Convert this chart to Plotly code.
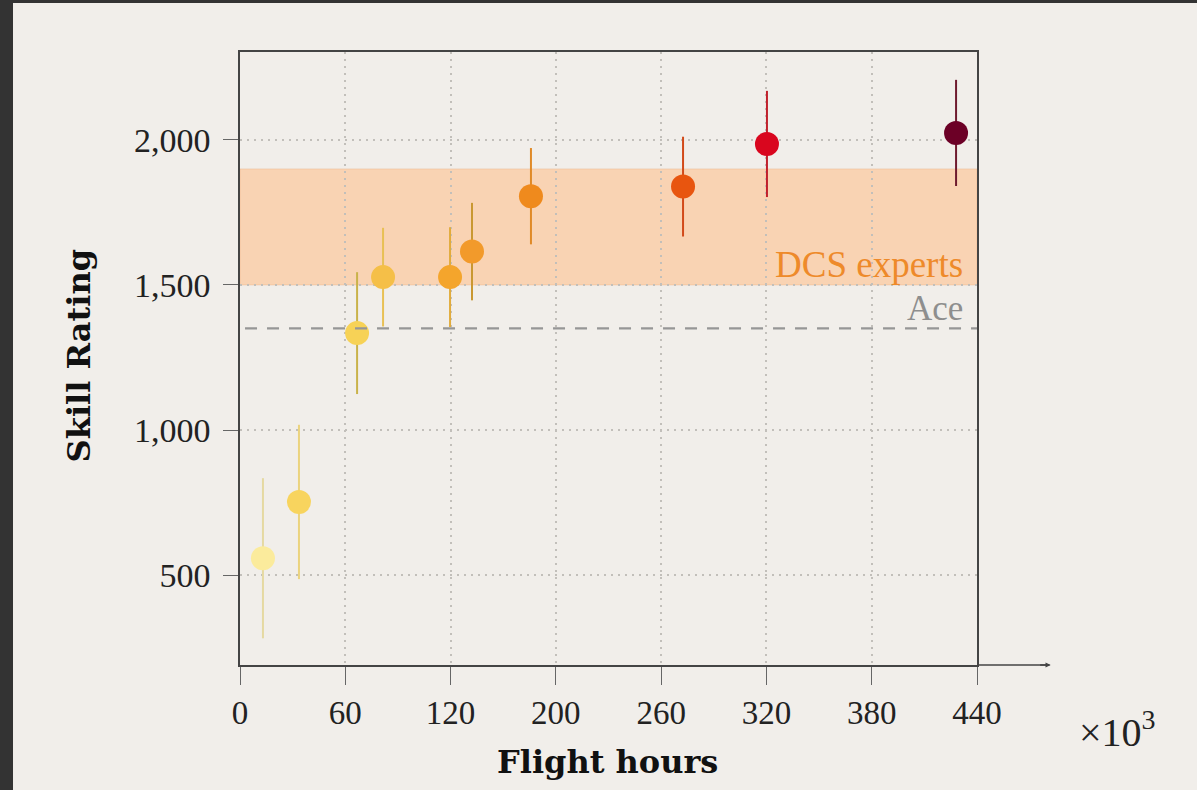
import plotly.graph_objects as go

# ---- data ----
flight_hours_k = [13.7, 35.2, 69.9, 85.4, 125.4, 138.5, 173.7, 264.5, 314.6, 427.5]
skill_rating = [558, 752, 1334, 1527, 1527, 1615, 1806, 1839, 1986, 2024]
rating_err = [276, 266, 210, 170, 172, 168, 166, 172, 183, 183]
point_colors = ["#fbeb9c", "#f8d45e", "#f7d256", "#f5bf48", "#f4a52c", "#f29a2b",
                "#ef8a1d", "#e8550f", "#d9061e", "#6c0026"]
err_colors = ["#e5d9a2", "#ebd37e", "#c9b24a", "#e8c055", "#e1ab3c", "#c99832",
              "#e08a27", "#d24a1a", "#c0202c", "#6e1a2e"]
x_tickvals = [0, 440 / 7, 880 / 7, 1320 / 7, 1760 / 7, 2200 / 7, 2640 / 7, 440]
x_ticktext = ["0", "60", "120", "200", "260", "320", "380", "440"]
y_tickvals = [500, 1000, 1500, 2000]
y_ticktext = ["500", "1,000", "1,500", "2,000"]
expert_band = [1500, 1900]
ace_level = 1350
x_range = [0, 440]
y_range = [190, 2303]

FONT = "Liberation Serif"
BOLD = "DejaVu Serif"
BG = "#f1eeea"
AXC = "#444444"
GRID = "#c2bfba"

fig = go.Figure()

for i in range(len(flight_hours_k)):
    fig.add_trace(go.Scatter(
        x=[flight_hours_k[i]], y=[skill_rating[i]],
        mode="markers",
        marker=dict(size=24, color=point_colors[i], line=dict(width=0)),
        error_y=dict(type="data", array=[rating_err[i]], color=err_colors[i],
                     thickness=2, width=0),
        showlegend=False, hoverinfo="x+y",
    ))

# expert band
fig.add_shape(type="rect", xref="x", yref="y", x0=x_range[0], x1=x_range[1],
              y0=expert_band[0], y1=expert_band[1],
              fillcolor="rgba(252,200,155,0.7)", line=dict(width=0.6, color="rgba(235,170,120,0.6)"),
              layer="below")
# ace line
fig.add_shape(type="line", xref="x", yref="y", x0=3, x1=x_range[1],
              y0=ace_level, y1=ace_level,
              line=dict(color="#969696", width=2.2, dash="12px,10px"))

# dark frame strips (left and top)
fig.add_shape(type="rect", xref="paper", yref="paper", x0=-0.40, x1=-0.3080,
              y0=-0.3, y1=1.2, fillcolor="#333333", line=dict(width=0), layer="below")
fig.add_shape(type="rect", xref="paper", yref="paper", x0=-0.40, x1=1.4,
              y0=1.0799, y1=1.2, fillcolor="#333333", line=dict(width=0), layer="below")

# extended x-axis with arrow
fig.add_shape(type="line", xref="paper", yref="paper", x0=1.0, x1=1.098,
              y0=0, y1=0, line=dict(color=AXC, width=1.5))
fig.add_annotation(xref="paper", yref="paper", x=1.1, y=0, ax=-12, ay=0,
                   axref="pixel", ayref="pixel", showarrow=True, arrowhead=2,
                   arrowsize=0.8, arrowwidth=1.3, arrowcolor=AXC, text="")

# labels
fig.add_annotation(xref="x", yref="y", x=x_range[1], y=expert_band[0],
                   xshift=-12, yshift=20, text="DCS experts", showarrow=False,
                   xanchor="right", yanchor="middle",
                   font=dict(family=FONT, size=37, color="#ee8a2a"))
fig.add_annotation(xref="x", yref="y", x=x_range[1], y=ace_level,
                   xshift=-12, yshift=20, text="Ace", showarrow=False,
                   xanchor="right", yanchor="middle",
                   font=dict(family=FONT, size=35, color="#8e8e8e"))
fig.add_annotation(xref="paper", yref="paper", x=0.498, y=-0.158,
                   text="<b>Flight hours</b>", showarrow=False,
                   xanchor="center", yanchor="middle",
                   font=dict(family=BOLD, size=32, color="#111111"))
fig.add_annotation(xref="paper", yref="paper", x=-0.2185, y=0.505,
                   text="<b>Skill Rating</b>", showarrow=False, textangle=-90,
                   xanchor="center", yanchor="middle",
                   font=dict(family=BOLD, size=32, color="#111111"))
fig.add_annotation(xref="paper", yref="paper", x=1.19, y=-0.105,
                   text="×10<sup>3</sup>", showarrow=False,
                   xanchor="center", yanchor="middle",
                   font=dict(family=FONT, size=40, color="#222222"))

fig.update_xaxes(range=x_range, tickvals=x_tickvals, ticktext=x_ticktext,
                 showline=True, linecolor=AXC, linewidth=1.5, mirror=True,
                 ticks="outside", ticklen=18, tickcolor="#666666", tickwidth=1,
                 showgrid=True, gridcolor=GRID, griddash="2px,5px", gridwidth=1.6,
                 zeroline=False,
                 tickfont=dict(family=FONT, size=33, color="#222222"))
fig.update_yaxes(range=y_range, tickvals=y_tickvals, ticktext=y_ticktext,
                 showline=True, linecolor=AXC, linewidth=1.5, mirror=True,
                 ticks="outside", ticklen=15, tickcolor="#666666", tickwidth=1,
                 ticklabelstandoff=6,
                 showgrid=True, gridcolor=GRID, griddash="2px,5px", gridwidth=1.6,
                 zeroline=False,
                 tickfont=dict(family=FONT, size=34, color="#222222"))

fig.update_layout(
    width=1197, height=790,
    margin=dict(l=240, r=220, t=52, b=125),
    paper_bgcolor=BG, plot_bgcolor=BG,
    showlegend=False,
)

fig.write_html("out.html")
